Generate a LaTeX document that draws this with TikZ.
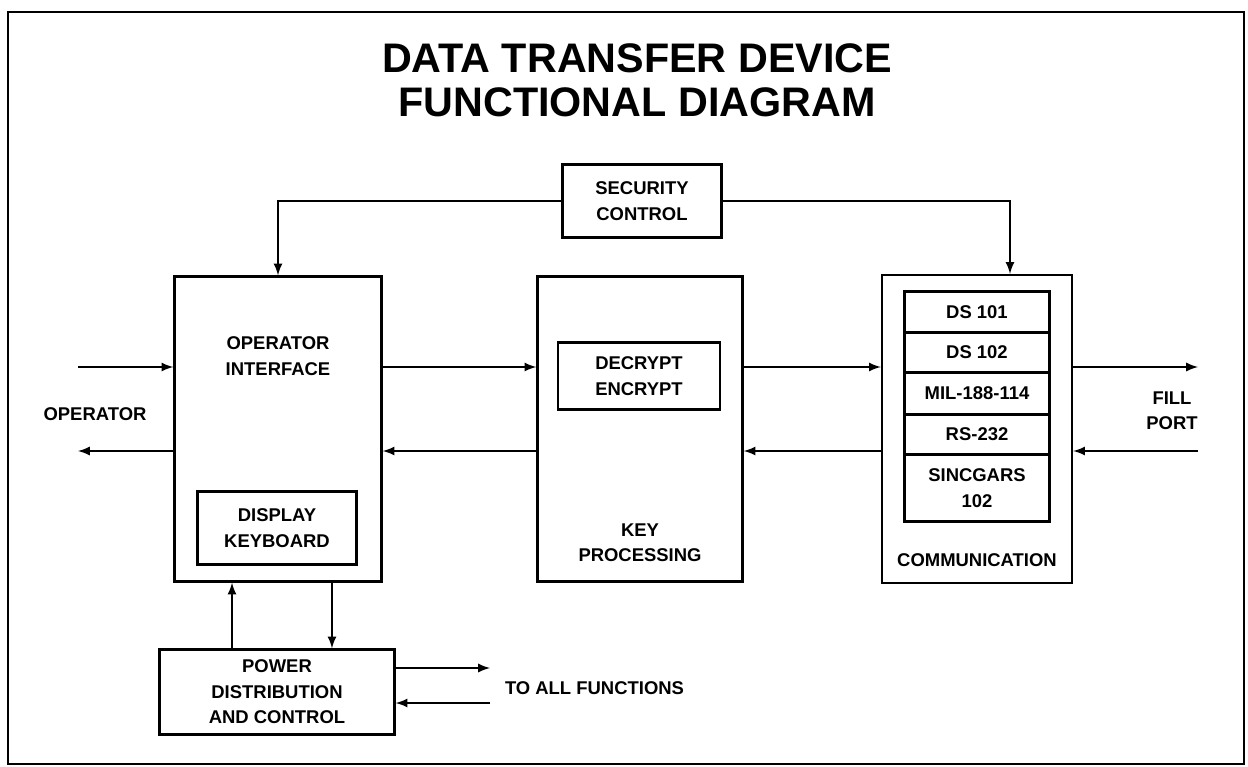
\documentclass[tikz,border=0pt]{standalone}
\usepackage{fontspec}
\setmainfont{Liberation Sans}
\usetikzlibrary{positioning,arrows}

\begin{document}
\begin{tikzpicture}[x=0.02cm, y=-0.02cm,
    box/.style={draw, line width=1.4pt, align=center, inner sep=0pt},
    txt/.style={align=center, font=\bfseries\fontsize{10.5}{14.5}\selectfont},
    row/.style={box, txt, minimum width=2.9cm, outer sep=0pt},
    >=latex, line width=1.3pt]
    \useasboundingbox (0,0) rectangle (1248,767);
    \draw[line width=1.6pt] (8,12) rectangle (1244,764);
    \node[align=center, font=\bfseries\fontsize{23.5}{25}\selectfont] (title) at (637,80)
      {DATA TRANSFER DEVICE\\FUNCTIONAL DIAGRAM};
    \node[box, txt, minimum width=3.18cm, minimum height=1.46cm] (sec) at (642,201) {SECURITY\\CONTROL};
    \node[box, minimum width=4.14cm, minimum height=6.1cm] (op) at (278,429) {};
    \node[txt] (opname) at (278,356) {OPERATOR\\INTERFACE};
    \node[box, txt, minimum width=3.18cm, minimum height=1.46cm] (disp) at (277,528) {DISPLAY\\KEYBOARD};
    \node[box, minimum width=4.1cm, minimum height=6.1cm] (key) at (640,429) {};
    \node[box, txt, minimum width=3.24cm, minimum height=1.34cm] (crypt) at (639,376) {DECRYPT\\ENCRYPT};
    \node[txt] (keyname) at (640,543) {KEY\\PROCESSING};
    \node[box, minimum width=3.8cm, minimum height=6.16cm] (comm) at (977,429) {};
    \node[row, minimum height=0.82cm] (ds1) at (977,312) {DS 101};
    \node[row, minimum height=0.8cm, below=0pt of ds1] (ds2) {DS 102};
    \node[row, minimum height=0.84cm, below=0pt of ds2] (mil) {MIL-188-114};
    \node[row, minimum height=0.8cm, below=0pt of mil] (rs) {RS-232};
    \node[row, minimum height=1.34cm, below=0pt of rs] (sinc) {SINCGARS\\102};
    \node[txt] (commname) at (977,560) {COMMUNICATION};
    \node[box, txt, minimum width=4.7cm, minimum height=1.7cm] (pwr) at (277,692) {POWER\\DISTRIBUTION\\AND CONTROL};
    \node[txt] (oper) at (95,414) {OPERATOR};
    \node[txt] (fill) at (1172,411) {FILL\\PORT};
    \node[txt, anchor=west] (funcs) at (498,688) {TO ALL FUNCTIONS};
    \coordinate (opin) at (78,367);
    \coordinate (opout) at (78,451);
    \coordinate (fillout) at (1198,367);
    \coordinate (fillin) at (1198,451);
    \coordinate (fout) at (490,668);
    \coordinate (fin) at (490,703);
    % security control
    \draw[->] (sec.west) -| (op.north);
    \draw[->] (sec.east) -| ([xshift=0.66cm]comm.north);
    % data paths
    \draw[->] (opin) -- (opin -| op.west);
    \draw[->] (opout -| op.west) -- (opout);
    \draw[->] (opin -| op.east) -- (opin -| key.west);
    \draw[->] (opout -| key.west) -- (opout -| op.east);
    \draw[->] (opin -| key.east) -- (opin -| comm.west);
    \draw[->] (opout -| comm.west) -- (opout -| key.east);
    \draw[->] (fillout -| comm.east) -- (fillout);
    \draw[->] (fillin) -- (fillin -| comm.east);
    % power
    \draw[->] ([xshift=-0.9cm]pwr.north) -- ([xshift=-0.9cm]pwr.north |- op.south);
    \draw[->] ([xshift=1.1cm]pwr.north |- op.south) -- ([xshift=1.1cm]pwr.north);
    \draw[->] (fout -| pwr.east) -- (fout);
    \draw[->] (fin) -- (fin -| pwr.east);
\end{tikzpicture}
\end{document}
